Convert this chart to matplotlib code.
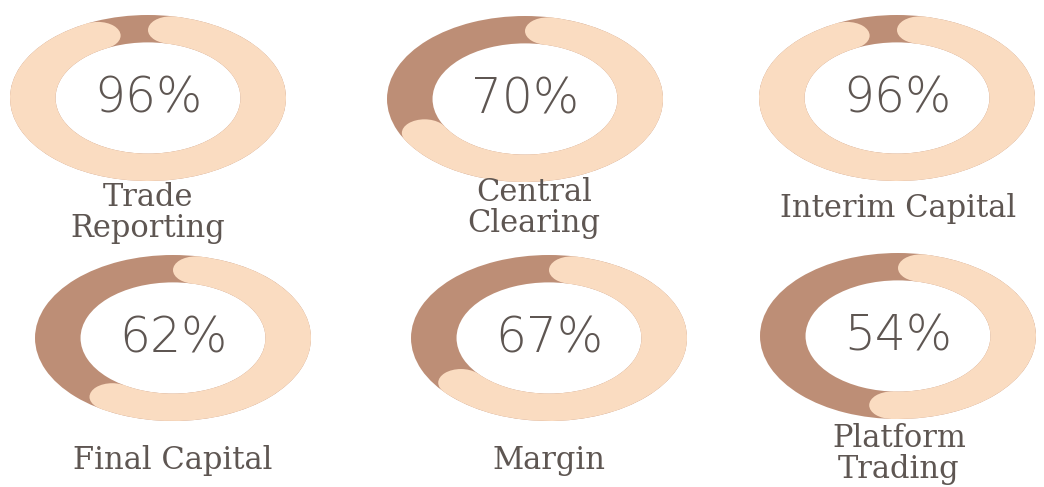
import numpy as np
import matplotlib
matplotlib.use("Agg")
import matplotlib.pyplot as plt
from matplotlib.patches import Wedge, Ellipse

# values
labels = ["Trade\nReporting", "Central\nClearing", "Interim Capital",
          "Final Capital", "Margin", "Platform\nTrading"]
values = [96, 70, 96, 62, 67, 54]

# layout in pixels (donut centres, label centres)
centers = [(148, 98), (525, 99), (897, 98), (173, 338), (549, 338), (898, 336)]
label_pos = [(148, 213), (534, 208), (898, 209), (173, 460), (549, 460), (899, 454)]
RX, RY = 138, 83

W, H = 1044, 487
light = "#fadcc1"
dark = "#bd8e76"
txt = "#5e5652"

fig = plt.figure(figsize=(W / 100, H / 100), dpi=100)
fig.patch.set_facecolor("white")

ring_w = 0.33
r_mid = 1 - ring_w / 2
cap_ang = np.degrees(np.arcsin((ring_w / 2) / r_mid))

for (cx, cy), v in zip(centers, values):
    ax = fig.add_axes([(cx - RX) / W, 1 - (cy + RY) / H, 2 * RX / W, 2 * RY / H])
    ax.set_xlim(-1, 1)
    ax.set_ylim(-1, 1)
    ax.axis("off")
    # dark full ring underneath, light arc with round ends on top
    ax.add_patch(Wedge((0, 0), 1, 0, 360, width=ring_w, color=dark, lw=0))
    start = 90 - cap_ang
    end = 90 - 3.6 * v + cap_ang
    ax.add_patch(Wedge((0, 0), 1, end, start, width=ring_w, color=light, lw=0))
    for a in (start, end):
        t = np.radians(a)
        ax.add_patch(Ellipse((r_mid * np.cos(t), r_mid * np.sin(t)), ring_w, ring_w,
                             color=light, lw=0))
    ax.text(0, -0.01, "{}%".format(v), ha="center", va="center", fontsize=35,
            color=txt, family="DejaVu Sans", fontweight="light")

top = fig.add_axes([0, 0, 1, 1])
top.set_xlim(0, W)
top.set_ylim(H, 0)
top.axis("off")
for (lx, ly), lab in zip(label_pos, labels):
    top.text(lx, ly, lab, ha="center", va="center", fontsize=22, color=txt,
             family="DejaVu Serif", linespacing=1.0)

fig.savefig("out.png", dpi=100, facecolor="white")
